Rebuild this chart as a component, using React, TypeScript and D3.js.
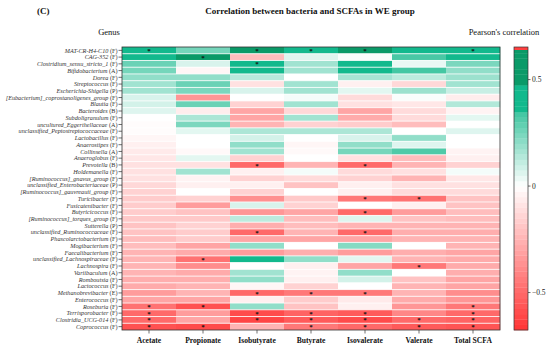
import * as d3 from 'd3';
import { useEffect, useRef } from 'react';

const width = 550;
const height = 346;

const genera = [
  'MAT-CR-H4-C10', 'CAG-352', 'Clostridium_sensu_stricto_1', 'Bifidobacterium', 'Dorea',
  'Streptococcus', 'Escherichia-Shigella', '[Eubacterium]_coprostanoligenes_group', 'Blautia',
  'Bacteroides', 'Subdoligranulum', 'uncultured_Eggerthellaceae', 'unclassified_Peptostreptococcaceae',
  'Lactobacillus', 'Anaerostipes', 'Collinsella', 'Anaeroglobus', 'Prevotella', 'Holdemanella',
  '[Ruminococcus]_gnavus_group', 'unclassified_Enterobacteriaceae', '[Ruminococcus]_gauvreauii_group',
  'Turicibacter', 'Fusicatenibacter', 'Butyricicoccus', '[Ruminococcus]_torques_group', 'Sutterella',
  'unclassified_Ruminococcaceae', 'Phascolarctobacterium', 'Mogibacterium', 'Faecalibacterium',
  'unclassified_Lachnospiraceae', 'Lachnospira', 'Variibaculum', 'Romboutsia', 'Lactococcus',
  'Methanobrevibacter', 'Enterococcus', 'Roseburia', 'Terrisporobacter', 'Clostridia_UCG-014',
  'Coprococcus',
];
const phyla = [
  'F', 'F', 'F', 'A', 'F', 'F', 'P', 'F', 'F', 'B', 'F', 'A', 'F', 'F', 'F', 'A', 'F', 'B', 'F',
  'F', 'P', 'F', 'F', 'F', 'F', 'F', 'P', 'F', 'F', 'F', 'F', 'F', 'F', 'A', 'F', 'F', 'E', 'F',
  'F', 'F', 'F', 'F',
];
const scfas = ['Acetate', 'Propionate', 'Isobutyrate', 'Butyrate', 'Isovalerate', 'Valerate', 'Total SCFA'];

const acetate = [0.42, 0.42, 0.27, 0.25, 0.2, 0.17, 0.17, 0.07, 0.08, 0.06, 0, -0.01, -0.01, -0.03, -0.05, -0.07, -0.08, -0.1, -0.1, -0.1, -0.13, -0.15, -0.17, -0.17, -0.17, -0.18, -0.2, -0.2, -0.22, -0.22, -0.25, -0.25, -0.25, -0.25, -0.27, -0.28, -0.33, -0.3, -0.47, -0.5, -0.5, -0.58];
const propionate = [0.25, 0.55, 0.07, -0.03, 0.2, 0.27, 0.24, -0.35, 0.27, -0.06, 0.15, 0.24, 0.05, 0, 0, -0.02, 0.05, -0.1, 0.17, -0.04, -0.05, 0, -0.15, -0.33, -0.2, -0.18, -0.15, -0.17, -0.17, -0.3, -0.28, -0.47, -0.38, -0.28, -0.27, -0.25, -0.25, -0.3, -0.58, -0.33, -0.3, -0.6];
const isobutyrate = [0.55, -0.22, 0.42, 0.4, 0.13, -0.1, 0.07, 0, -0.15, -0.3, -0.3, -0.25, 0.15, 0.08, 0.2, 0.17, -0.15, -0.5, -0.05, -0.15, -0.05, -0.15, -0.37, 0.07, -0.35, 0.12, -0.27, -0.5, -0.3, 0.2, -0.33, 0.38, 0, 0.17, 0.2, -0.03, -0.5, -0.05, 0.2, -0.6, -0.62, -0.25];
const butyrate = [0.42, 0.06, 0.17, 0.17, 0, 0.17, 0.17, 0.02, 0.17, -0.13, 0.17, -0.15, 0.15, 0, -0.03, -0.02, 0, -0.25, 0.02, -0.12, -0.2, 0, -0.18, -0.15, -0.3, -0.22, -0.22, -0.25, -0.3, 0, -0.27, 0.2, -0.05, -0.04, -0.05, -0.15, -0.45, -0.17, -0.2, -0.52, -0.55, -0.45];
const isovalerate = [0.55, 0.01, 0.4, 0.38, 0.16, -0.05, 0.05, -0.12, -0.1, -0.3, -0.28, -0.17, 0.15, 0.07, 0.2, 0.25, -0.1, -0.5, -0.12, -0.15, -0.05, -0.05, -0.45, 0, -0.5, 0.06, -0.25, -0.5, -0.3, 0.22, -0.33, 0.05, -0.3, 0.2, 0.08, 0, -0.45, -0.07, -0.05, -0.55, -0.6, -0.5];
const valerate = [0.35, 0.33, 0.04, 0.34, 0.12, -0.13, 0.18, 0.01, -0.08, -0.12, -0.12, -0.22, 0, 0.2, 0.06, 0.32, -0.22, -0.25, -0.1, -0.25, -0.1, -0.12, -0.47, -0.05, -0.33, -0.2, -0.25, -0.27, -0.25, 0, -0.27, -0.25, -0.45, 0, -0.2, -0.25, -0.25, -0.28, -0.35, -0.4, -0.5, -0.55];
const totalScfa = [0.42, 0.4, 0.24, 0.2, 0.18, 0.17, 0.1, -0.06, 0.14, -0.04, 0.05, 0, 0.06, 0, 0, -0.04, -0.05, -0.15, 0.02, -0.08, -0.1, -0.12, -0.2, -0.2, -0.22, -0.22, -0.25, -0.27, -0.25, -0.25, -0.3, -0.28, -0.28, -0.27, -0.3, -0.3, -0.38, -0.35, -0.45, -0.5, -0.52, -0.57];

// row indices marked with * (p < 0.05)
const sigAcetate = [0, 38, 39, 40, 41];
const sigPropionate = [1, 31, 38, 41];
const sigIsobutyrate = [0, 2, 17, 27, 36, 39, 40];
const sigButyrate = [0, 36, 39, 40, 41];
const sigIsovalerate = [0, 17, 22, 24, 27, 36, 39, 40, 41];
const sigValerate = [22, 32, 40, 41];
const sigTotal = [0, 38, 39, 40, 41];

const colorTicks = [0.5, 0, -0.5];
const cbMin = -0.676;
const cbMax = 0.653;

function color(v: number) {
  if (v >= 0.47) return '#0a9a68';
  if (v >= 0.35) return '#12b98d';
  if (v >= 0) return d3.interpolateRgb('#ffffff', '#3ec5a0')(v / 0.35);
  return d3.interpolateRgb('#ffffff', '#ff3434')(Math.min(1, -v / 0.676));
}

const App = () => {
  const svgRef = useRef<SVGSVGElement>(null);

  useEffect(() => {
    const cols = [acetate, propionate, isobutyrate, butyrate, isovalerate, valerate, totalScfa];
    const sigs = [sigAcetate, sigPropionate, sigIsobutyrate, sigButyrate, sigIsovalerate, sigValerate, sigTotal];
    const cells: { r: number; c: number; v: number; sig: boolean }[] = [];
    cols.forEach((arr, c) => arr.forEach((v, r) => cells.push({ r, c, v, sig: sigs[c].includes(r) })));

    const svg = d3.select(svgRef.current);
    svg.selectAll('*').remove();
    const serif = "'Liberation Serif', 'Times New Roman', serif";

    const x = d3.scaleBand().domain(scfas).range([122, 500]);
    const y = d3.scaleBand().domain(genera).range([47, 330]);

    const g = svg.append('g');
    g.selectAll('rect.cell')
      .data(cells)
      .enter()
      .append('rect')
      .attr('class', 'cell')
      .attr('x', (d) => x(scfas[d.c])!)
      .attr('y', (d) => y(genera[d.r])!)
      .attr('width', x.bandwidth() + 0.2)
      .attr('height', y.bandwidth())
      .attr('fill', (d) => color(d.v));

    // thin white lines between rows
    g.selectAll('line.sep')
      .data(genera.slice(1))
      .enter()
      .append('line')
      .attr('x1', 122)
      .attr('x2', 500)
      .attr('y1', (d) => y(d)!)
      .attr('y2', (d) => y(d)!)
      .attr('stroke', '#fff')
      .attr('stroke-width', 0.8);

    g.selectAll('text.star')
      .data(cells.filter((d) => d.sig))
      .enter()
      .append('text')
      .attr('x', (d) => x(scfas[d.c])! + x.bandwidth() / 2)
      .attr('y', (d) => y(genera[d.r])! + y.bandwidth() / 2 + 2.6)
      .attr('text-anchor', 'middle')
      .style('font-family', serif)
      .style('font-size', '7px')
      .style('font-weight', 'bold')
      .attr('fill', '#111')
      .text('*');

    g.append('rect')
      .attr('x', 122).attr('y', 47).attr('width', 378).attr('height', 283)
      .attr('fill', 'none').attr('stroke', '#333').attr('stroke-width', 0.8);

    // left axis
    const yAxis = g.append('g');
    genera.forEach((name, i) => {
      const yy = y(name)! + y.bandwidth() / 2;
      yAxis.append('line').attr('x1', 118.5).attr('x2', 122).attr('y1', yy).attr('y2', yy)
        .attr('stroke', '#333').attr('stroke-width', 0.7);
      const t = yAxis.append('text')
        .attr('x', 117.5).attr('y', yy + 2.2)
        .attr('text-anchor', 'end')
        .style('font-family', serif)
        .style('font-size', '6.2px')
        .attr('fill', '#333');
      t.append('tspan').style('font-style', 'italic').text(name);
      t.append('tspan').text(` (${phyla[i]})`);
    });

    // bottom axis
    scfas.forEach((s) => {
      const xx = x(s)! + x.bandwidth() / 2;
      g.append('line').attr('x1', xx).attr('x2', xx).attr('y1', 330).attr('y2', 333.5)
        .attr('stroke', '#333').attr('stroke-width', 0.7);
      g.append('text').attr('x', xx).attr('y', 342.5).attr('text-anchor', 'middle')
        .style('font-family', serif).style('font-size', '7.6px').style('font-weight', 'bold')
        .attr('fill', '#111').text(s);
    });

    // color bar
    const cy = d3.scaleLinear().domain([cbMin, cbMax]).range([330, 47]);
    const step = 0.025;
    const bands = d3.range(cbMin, cbMax, step);
    g.selectAll('rect.cb')
      .data(bands)
      .enter()
      .append('rect')
      .attr('x', 514)
      .attr('width', 14)
      .attr('y', (d) => cy(Math.min(cbMax, d + step)))
      .attr('height', (d) => cy(d) - cy(Math.min(cbMax, d + step)) + 0.3)
      .attr('fill', (d) => color(d + step / 2));
    g.append('rect').attr('x', 514).attr('y', 47).attr('width', 14).attr('height', 3).attr('fill', '#ff4040');
    g.append('rect').attr('x', 514).attr('y', 47).attr('width', 14).attr('height', 283)
      .attr('fill', 'none').attr('stroke', '#333').attr('stroke-width', 0.7);
    colorTicks.forEach((t) => {
      g.append('line').attr('x1', 528).attr('x2', 530.5).attr('y1', cy(t)).attr('y2', cy(t))
        .attr('stroke', '#333').attr('stroke-width', 0.7);
      g.append('text').attr('x', 532).attr('y', cy(t) + 2.6)
        .style('font-family', serif).style('font-size', '7.5px').attr('fill', '#222')
        .text(t < 0 ? `\u2212${Math.abs(t)}` : `${t}`);
    });

    // titles
    svg.append('text').attr('x', 37).attr('y', 14)
      .style('font-family', serif).style('font-size', '9px').style('font-weight', 'bold')
      .attr('fill', '#111').text('(C)');
    svg.append('text').attr('x', 310).attr('y', 14).attr('text-anchor', 'middle')
      .style('font-family', serif).style('font-size', '9px').style('font-weight', 'bold')
      .attr('fill', '#111').text('Correlation between bacteria and SCFAs in WE group');
    svg.append('text').attr('x', 109).attr('y', 35).attr('text-anchor', 'middle')
      .style('font-family', serif).style('font-size', '8.5px')
      .attr('fill', '#111').text('Genus');
    svg.append('text').attr('x', 504).attr('y', 35).attr('text-anchor', 'middle')
      .style('font-family', serif).style('font-size', '8.5px')
      .attr('fill', '#111').text("Pearson's correlation");
  }, []);

  return (
    <svg
      ref={svgRef}
      width={width}
      height={height}
      style={{ position: 'absolute', left: 0, top: 0, background: '#fff' }}
    />
  );
};

export default App;
